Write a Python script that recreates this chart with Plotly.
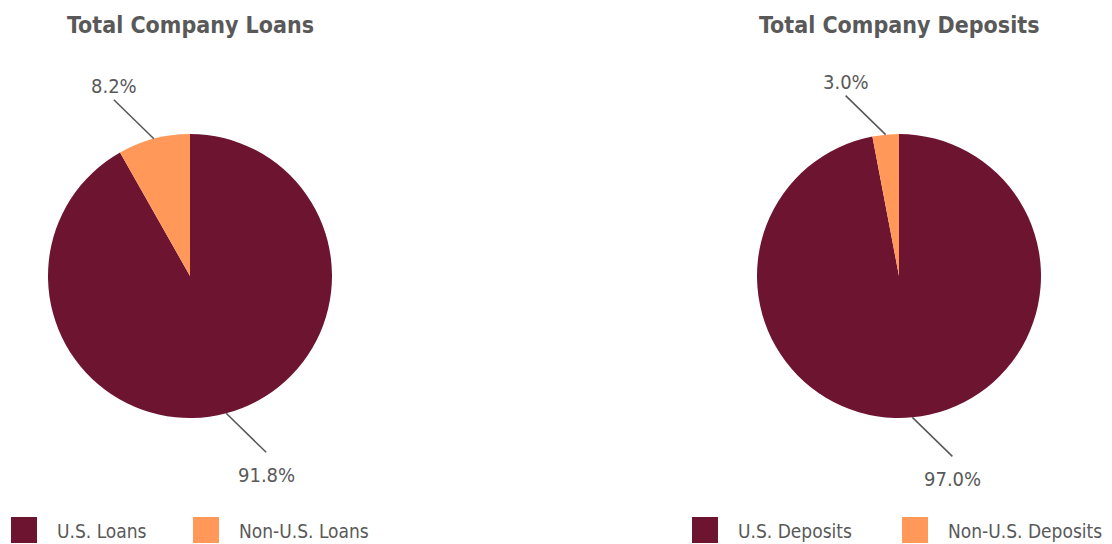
import math
import plotly.graph_objects as go

# ---- data ----
titles = ["Total Company Loans", "Total Company Deposits"]
loan_labels = ["U.S. Loans", "Non-U.S. Loans"]
loan_values = [91.8, 8.2]
deposit_labels = ["U.S. Deposits", "Non-U.S. Deposits"]
deposit_values = [97.0, 3.0]

# ---- styling / layout ----
W, H = 1112, 544
colors = ["#6D1530", "#FF9858"]
text_gray = "#595959"
FONT = "DejaVu Sans Condensed, Liberation Sans Narrow, Roboto, sans-serif"

centers = [(190, 276), (899, 276)]
R = 142
legend_x = [(11, 193), (692, 902)]


def px(x):
    return x / W


def py(y):
    return 1 - y / H


fig = go.Figure()
annotations = []
shapes = []

for k, (labels, values) in enumerate([(loan_labels, loan_values), (deposit_labels, deposit_values)]):
    cx, cy = centers[k]
    fig.add_trace(go.Pie(
        labels=labels, values=values, sort=False, direction="clockwise", rotation=0,
        marker=dict(colors=colors, line=dict(width=0)),
        textinfo="none", hoverinfo="label+percent", showlegend=False,
        domain=dict(x=[px(cx - R), px(cx + R)], y=[py(cy + R), py(cy - R)]),
    ))
    # title
    annotations.append(dict(text=f"<b>{titles[k]}</b>", x=px(cx), y=py(25), xref="paper", yref="paper",
                            showarrow=False, xanchor="center", yanchor="middle",
                            font=dict(family=FONT, size=23, color=text_gray)))
    # leader lines + labels
    total = sum(values)
    cum = 0
    for v in values:
        mid = (cum + v / 2) / total
        cum += v
        th = mid * 2 * math.pi
        sx0 = cx + R * math.sin(th)
        sy0 = cy - R * math.cos(th)
        hs = 1 if math.sin(th) >= 0 else -1
        vs = 1 if -math.cos(th) >= 0 else -1
        ex = sx0 + hs * 40
        ey = sy0 + vs * 39
        shapes.append(dict(type="line", xref="paper", yref="paper",
                           x0=px(sx0), y0=py(sy0), x1=px(ex), y1=py(ey),
                           line=dict(color="#555555", width=1.5)))
        ty = ey - 14 if vs < 0 else ey + 23
        annotations.append(dict(text=f"{v / total * 100:.1f}%", x=px(ex), y=py(ty), xref="paper", yref="paper",
                                showarrow=False, xanchor="center", yanchor="middle",
                                font=dict(family=FONT, size=20, color=text_gray)))
    # legend
    for j, lab in enumerate(labels):
        lx = legend_x[k][j]
        shapes.append(dict(type="rect", xref="paper", yref="paper",
                           x0=px(lx), x1=px(lx + 26), y0=py(543), y1=py(517),
                           fillcolor=colors[j], line=dict(width=0)))
        annotations.append(dict(text=lab, x=px(lx + 44), y=py(531), xref="paper", yref="paper",
                                showarrow=False, xanchor="left", yanchor="middle",
                                font=dict(family=FONT, size=19, color=text_gray)))

fig.update_layout(
    width=W, height=H, margin=dict(l=0, r=0, t=0, b=0),
    paper_bgcolor="white", plot_bgcolor="white",
    annotations=annotations, shapes=shapes, showlegend=False,
)

fig.write_html("out.html", config={"displayModeBar": False},
               post_script="document.body.style.margin='0';document.body.style.overflow='hidden';")
